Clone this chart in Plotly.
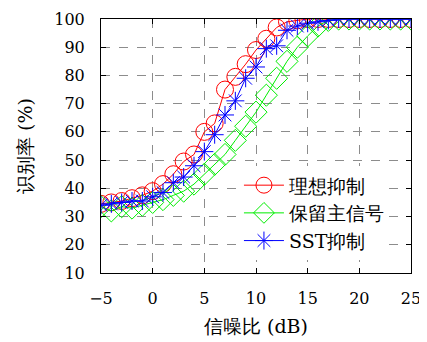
import plotly.graph_objects as go

snr = list(range(-5, 26))

ideal = [34.5, 35, 35.5, 36.5, 37.5, 39, 41.5, 45, 49.5, 52, 60, 63, 75, 79.5, 84, 89,
         93, 97, 99, 99.5, 100, 100, 100, 100, 100, 100, 100, 100, 100, 100, 100]
keep_main = [33.5, 32, 33.5, 33, 34, 35, 36, 37.5, 39, 41.5, 45, 48.5, 52, 57, 62, 67,
             73, 79, 85, 90, 94, 97.5, 99.5, 100, 100, 100, 100, 100, 100, 100, 100]
sst = [34, 34.5, 35, 35.5, 35.5, 37, 38.5, 42, 44, 48, 53, 59, 66, 71, 79, 83,
       89.5, 90.5, 96, 97.5, 98.5, 99, 99.5, 100, 100, 100, 100, 100, 100, 100, 100]

names = ["理想抑制", "保留主信号", "SST抑制"]
xticks = [-5, 0, 5, 10, 15, 20, 25]
yticks = [10, 20, 30, 40, 50, 60, 70, 80, 90, 100]

FONT = "DejaVu Serif"

# the page body has an 8px margin, so the figure is 8px smaller than the window
W, H = 419, 334

fig = go.Figure()
fig.add_trace(go.Scatter(x=snr, y=ideal, name=names[0], mode="lines+markers",
                         legendgroup="a",
                         line=dict(color="#ff0000", width=1),
                         marker=dict(symbol="circle-open", size=17, color="#ff0000",
                                     line=dict(width=1))))
fig.add_trace(go.Scatter(x=snr, y=keep_main, name=names[1], mode="lines+markers",
                         legendgroup="b",
                         line=dict(color="#00ee00", width=1),
                         marker=dict(symbol="diamond-open", size=17, color="#00ee00",
                                     line=dict(width=1))))
fig.add_trace(go.Scatter(x=snr, y=sst, name=names[2], mode="lines+markers",
                         legendgroup="c",
                         line=dict(color="#0000ff", width=1),
                         marker=dict(symbol="asterisk-open", size=15, color="#0000ff",
                                     line=dict(width=1, color="#0000ff"))))

axis_common = dict(
    showline=True, linecolor="black", linewidth=1, mirror="allticks",
    ticks="inside", ticklen=5, tickcolor="black", tickwidth=1,
    showgrid=True, gridcolor="#8c8c8c", griddash="dash", gridwidth=1,
    zeroline=False, tickfont=dict(family=FONT, size=16, color="black"),
)

fig.update_xaxes(range=[-5, 25], tickvals=xticks, ticklabelstandoff=11,
                 title=dict(text="信噪比 (dB)", font=dict(family=FONT, size=19, color="black"),
                            standoff=12),
                 **axis_common)
fig.update_yaxes(range=[10, 100], tickvals=yticks, ticklabelstandoff=12,
                 title=dict(text="识别率 (%)", font=dict(family=FONT, size=19, color="black"),
                            standoff=16),
                 **axis_common)

fig.update_layout(
    width=W, height=H,
    margin=dict(l=93, r=16, t=11, b=69, autoexpand=False),
    paper_bgcolor="white", plot_bgcolor="white",
    showlegend=True,
    legend=dict(x=0.445, y=0.42, xanchor="left", yanchor="top",
                bgcolor="white", borderwidth=0,
                font=dict(family=FONT, size=19, color="black"),
                tracegroupgap=0, itemwidth=40),
    font=dict(family=FONT),
)

fig.write_html("out.html")
